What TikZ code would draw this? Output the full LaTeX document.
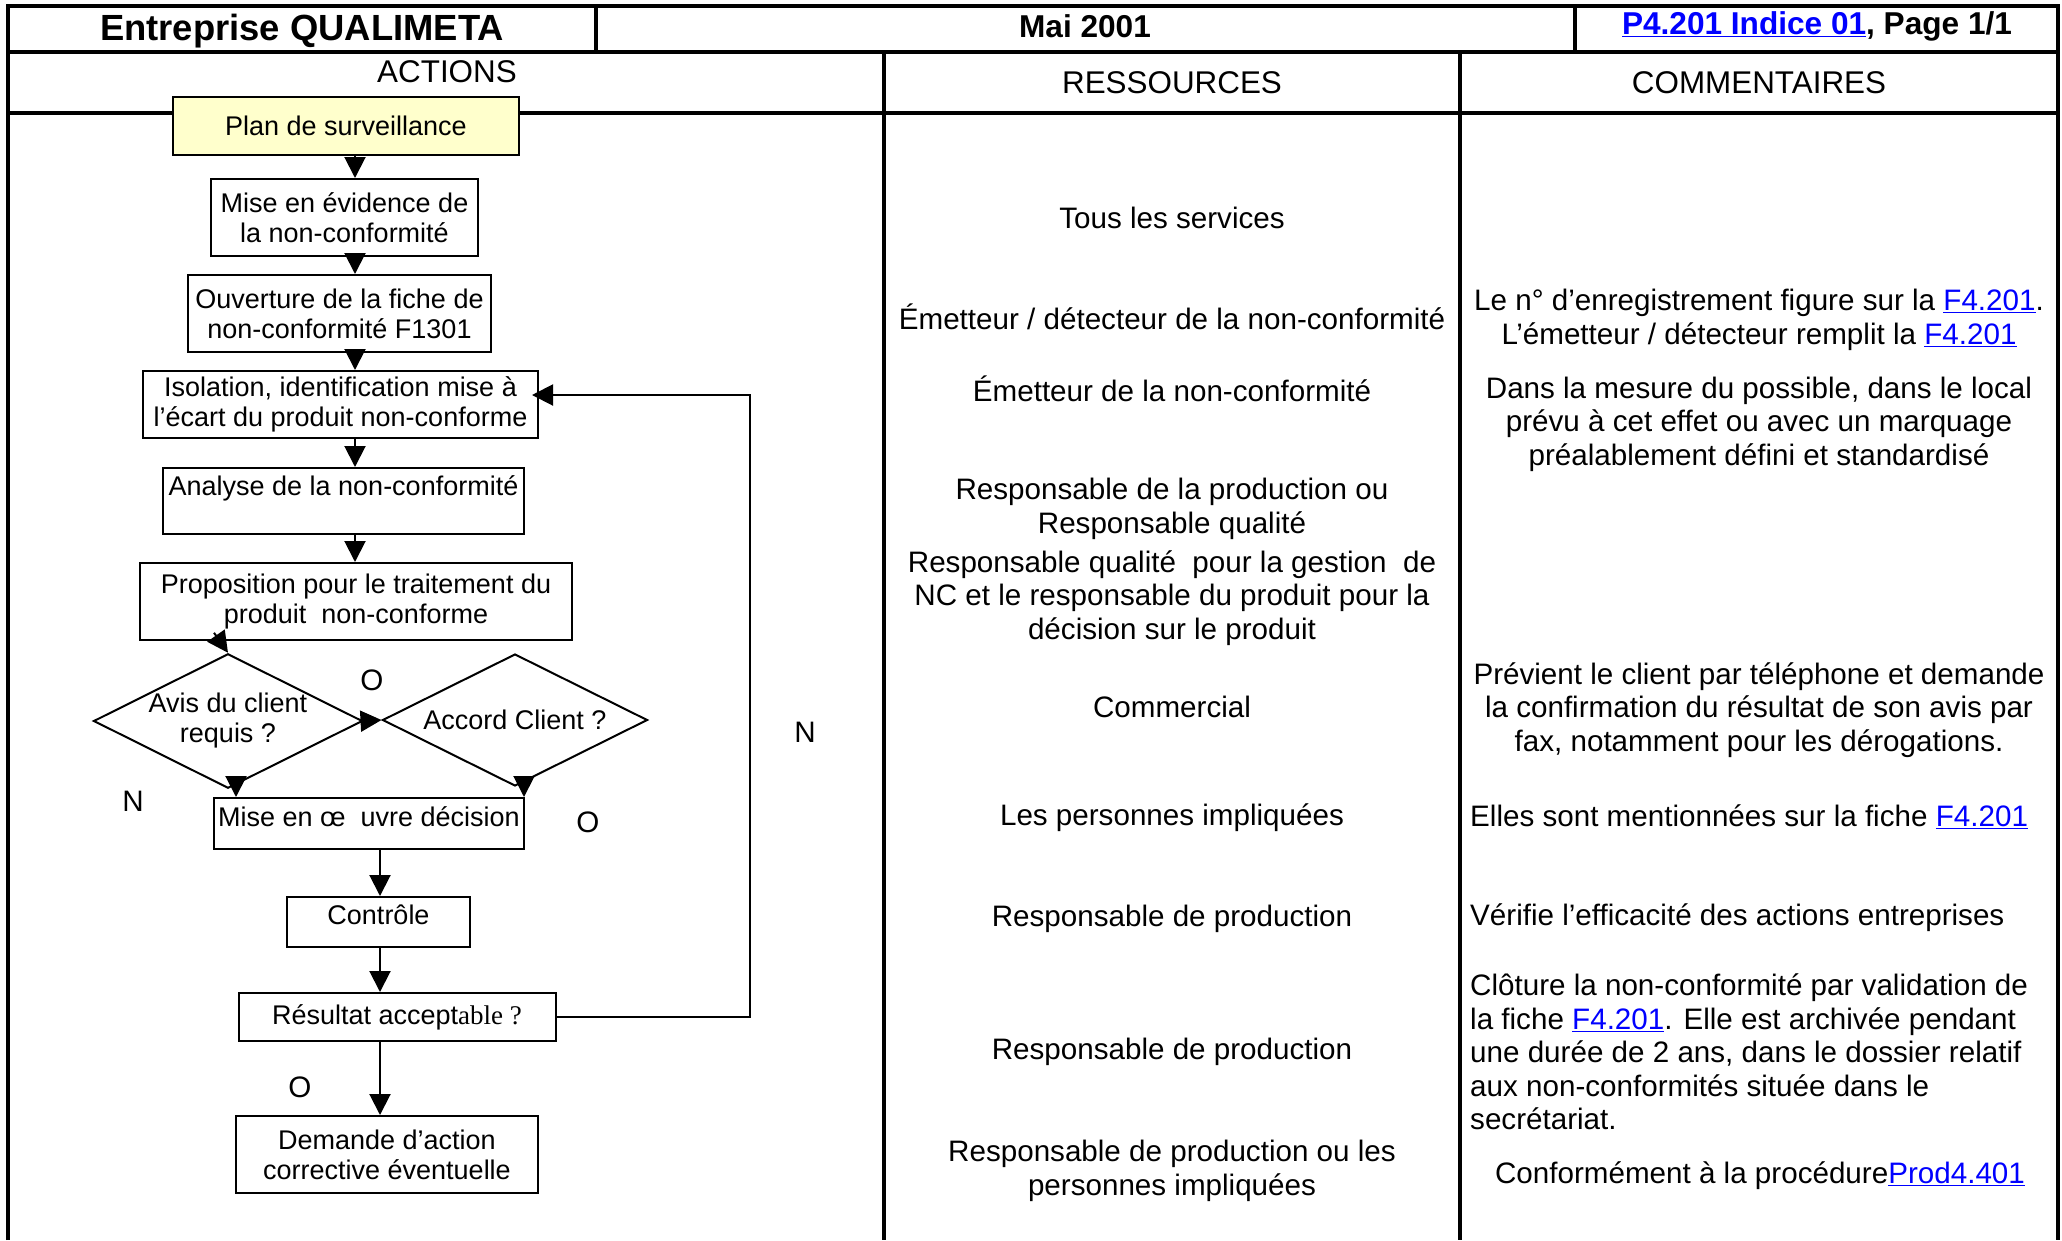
\documentclass[tikz,border=0pt]{standalone}
\usepackage{fontspec}
\setmainfont{Liberation Sans}
\newfontfamily\serifpart{Liberation Serif}
\usetikzlibrary{arrows.meta,shapes.geometric}
\definecolor{linkblue}{RGB}{0,0,255}
\definecolor{planfill}{RGB}{255,255,204}
\newcommand\lnk[1]{\textcolor{linkblue}{\underline{#1}}}
\newcommand\fbody{\fontsize{29.6}{33.6}\selectfont}
\newcommand\fhead{\fontsize{31.4}{36}\selectfont}
\newcommand\fflow{\fontsize{27}{30}\selectfont}
\newcommand\ftitle{\fontsize{36.4}{40}\selectfont\bfseries}
\newcommand\fhb{\fontsize{31.6}{36}\selectfont\bfseries}
\begin{document}
\begin{tikzpicture}[x=1pt,y=-1pt,
  tline/.style={line width=3.5pt},
  box/.style={draw, line width=2pt, inner sep=0pt, align=center, font=\fflow},
  dec/.style={draw, diamond, aspect=2, line width=2pt, inner sep=0pt, align=center, font=\fflow, minimum width=265pt, minimum height=132pt},
  arr/.style={line width=2pt, -{Triangle[length=21pt,width=21pt]}},
  txt/.style={inner sep=0pt, align=center, font=\fbody},
  ltxt/.style={inner sep=0pt, align=left, anchor=west, font=\fbody},
  hd/.style={inner sep=0pt, font=\fhead},
  yn/.style={inner sep=0pt, font=\fbody}]
\useasboundingbox (0,0) rectangle (2062,1240);
% table
\draw[tline] (8,1240) -- (8,6) -- (2058,6) -- (2058,1240);
\draw[tline] (8,52) -- (2058,52);
\draw[tline] (596,6) -- (596,52);
\draw[tline] (1575,6) -- (1575,52);
\draw[tline] (8,113) -- (2058,113);
\draw[tline] (884,52) -- (884,1240);
\draw[tline] (1460,52) -- (1460,1240);
% header
\node[inner sep=0pt, font=\ftitle] (h1) at (302,31) {Entreprise QUALIMETA};
\node[inner sep=0pt, font=\fhb] (h2) at (1085,26) {Mai 2001};
\node[inner sep=0pt, font=\fhb] (h3) at (1817,26) {\lnk{P4.201 Indice 01}, Page 1/1};
\node[hd] (ha) at (447,72) {ACTIONS};
\node[hd] (hr) at (1172,83) {RESSOURCES};
\node[hd] (hc) at (1759,83) {COMMENTAIRES};
% flowchart
\node[box, fill=planfill, minimum width=346pt, minimum height=58pt] (plan) at (346,126) {Plan de surveillance};
\node[box, minimum width=267pt, minimum height=77pt] (mise) at (344.5,217.5) {Mise en évidence de\\la non-conformité};
\node[box, minimum width=303pt, minimum height=77pt] (ouv) at (339.5,313.5) {Ouverture de la fiche de\\non-conformité F1301};
\node[box, minimum width=395pt, minimum height=67pt] (iso) at (340.5,404.5) {Isolation, identification mise à\\l’écart du produit non-conforme};
\node[box, minimum width=361pt, minimum height=66pt] (ana) at (343.5,501) {Analyse de la non-conformité\\\mbox{}};
\node[box, minimum width=432pt, minimum height=77pt] (prop) at (356,601.5) {Proposition pour le traitement du\\produit\ \ non-conforme};
\node[dec] (dia1) at (228,721) {Avis du client\\requis ?};
\node[dec] (dia2) at (515,720) {Accord Client ?};
\node[box, minimum width=310pt, minimum height=51pt, text depth=13pt] (mise2) at (369,823.5) {Mise en œ\ \ uvre décision};
\node[box, minimum width=183pt, minimum height=50pt, text depth=14pt] (ctrl) at (378.5,922) {Contrôle};
\node[box, minimum width=317pt, minimum height=48pt] (res) at (397,1017) {Résultat accept{\serifpart able ?}};
\node[box, minimum width=302pt, minimum height=77pt] (dem) at (387,1154.5) {Demande d’action\\corrective éventuelle};
% labels
\node[yn] (o1) at (372,680) {O};
\node[yn] (n1) at (133,801) {N};
\node[yn] (o2) at (588,822) {O};
\node[yn] (n2) at (805,732) {N};
\node[yn] (o3) at (300,1087) {O};
% connectors
\coordinate (ax) at (355,0);
\coordinate (bx) at (380,0);
\coordinate (lx) at (750,0);
\draw[arr] (plan.south -| ax) -- (mise.north -| ax);
\draw[arr] (mise.south -| ax) -- (ouv.north -| ax);
\draw[arr] (ouv.south -| ax) -- (iso.north -| ax);
\draw[arr] (iso.south -| ax) -- (ana.north -| ax);
\draw[arr] (ana.south -| ax) -- (prop.north -| ax);
\draw[arr] ([shift={(-14,-20)}]dia1.north) -- (dia1.north);
\draw[arr] (dia1.east) -- (dia2.west);
\draw[arr] ([xshift=8pt]dia1.south) -- ([xshift=8pt]dia1.south |- mise2.north);
\draw[arr] ([xshift=9pt]dia2.south) -- ([xshift=9pt]dia2.south |- mise2.north);
\draw[arr] (mise2.south -| bx) -- (ctrl.north -| bx);
\draw[arr] (ctrl.south -| bx) -- (res.north -| bx);
\draw[arr] (res.south -| bx) -- (dem.north -| bx);
\draw[arr, shorten >=-7pt] (res.east) -- (res.east -| lx) -- ([yshift=9.5pt]iso.east -| lx) -- ([yshift=9.5pt]iso.east);
% ressources
\node[txt] (r1) at (1172,218) {Tous les services};
\node[txt] (r2) at (1172,317) {Émetteur / détecteur de la non-conformité};
\node[txt] (r3) at (1172,389) {Émetteur de la non-conformité};
\node[txt] (r4) at (1172,509) {Responsable de la production ou\\Responsable qualité};
\node[txt] (r5) at (1172,598) {Responsable qualité\ \ pour la gestion\ \ de\\NC et le responsable du produit pour la\\décision sur le produit};
\node[txt] (r6) at (1172,707) {Commercial};
\node[txt] (r7) at (1172,818) {Les personnes impliquées};
\node[txt] (r8) at (1172,919) {Responsable de production};
\node[txt] (r9) at (1172,1052) {Responsable de production};
\node[txt] (r10) at (1172,1171) {Responsable de production ou les\\personnes impliquées};
% commentaires
\node[txt] (c1) at (1759,320) {Le n° d’enregistrement figure sur la \lnk{F4.201}.\\L’émetteur / détecteur remplit la \lnk{F4.201}};
\node[txt] (c2) at (1759,424) {Dans la mesure du possible, dans le local\\prévu à cet effet ou avec un marquage\\préalablement défini et standardisé};
\node[txt] (c3) at (1759,710) {Prévient le client par téléphone et demande\\la confirmation du résultat de son avis par\\fax, notamment pour les dérogations.};
\node[ltxt] (c4) at (1470,817) {Elles sont mentionnées sur la fiche \lnk{F4.201}};
\node[ltxt] (c5) at (1470,918) {Vérifie l’efficacité des actions entreprises};
\node[ltxt] (c6) at (1470,1052) {Clôture la non-conformité par validation de\\la fiche \lnk{F4.201}. Elle est archivée pendant\\une durée de 2 ans, dans le dossier relatif\\aux non-conformités située dans le\\secrétariat.};
\node[txt] (c7) at (1760,1176) {Conformément à la procédure\lnk{Prod4.401}};
\end{tikzpicture}
\end{document}
